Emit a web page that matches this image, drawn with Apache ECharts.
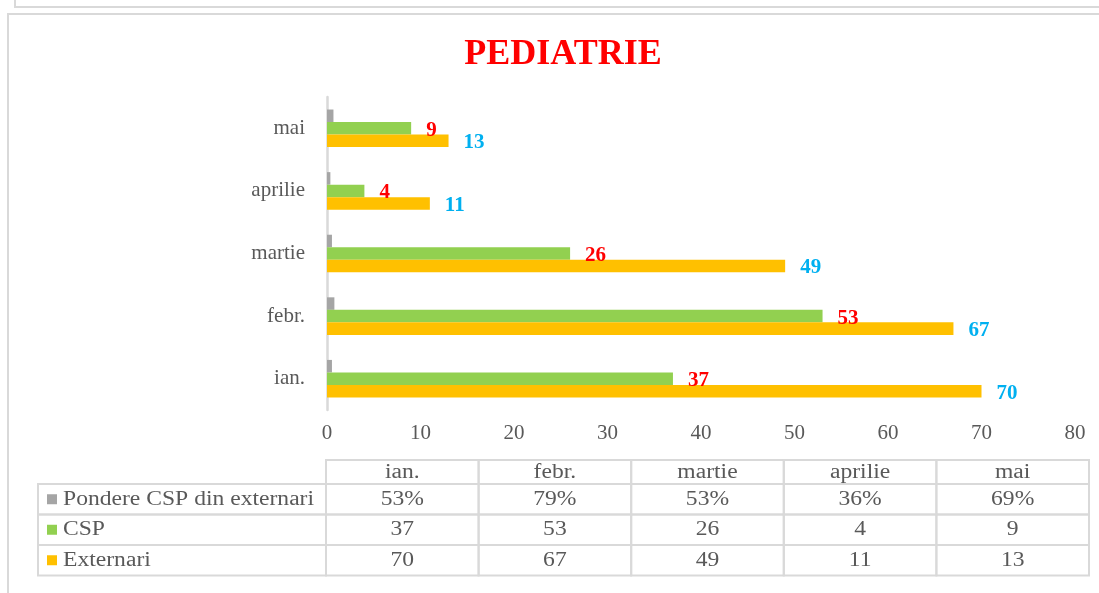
<!DOCTYPE html>
<html>
<head>
<meta charset="utf-8">
<script src="https://cdn.jsdelivr.net/npm/echarts@6/dist/echarts.min.js"></script>
<style>
  html, body { margin: 0; padding: 0; background: #fff; }
  #chart { width: 1099px; height: 593px; }
</style>
</head>
<body>
<div id="chart"></div>
<script>
  // date
  const categories = ['ian.', 'febr.', 'martie', 'aprilie', 'mai'];
  const seriesNames = ['Pondere CSP din externari', 'CSP', 'Externari'];
  const pondere = [0.53, 0.79, 0.53, 0.36, 0.69];
  const csp = [37, 53, 26, 4, 9];
  const externari = [70, 67, 49, 11, 13];
  const xTicks = [0, 10, 20, 30, 40, 50, 60, 70, 80];

  const GRAY = '#a5a5a5';
  const GREEN = '#92d050';
  const ORANGE = '#ffc000';
  const TEXT = '#595959';
  const BORDER = '#d9d9d9';
  const FONT = '"Liberation Serif", "Times New Roman", serif';

  const chart = echarts.init(document.getElementById('chart'));

  // tabelul de date de sub grafic
  const tableLeft = 38;
  const labelColRight = 326;
  const tableRight = 1089;
  const headerTop = 460;
  const headerH = 24;
  const rowH = 30.5;
  const colW = (tableRight - labelColRight) / categories.length;
  const rows = [
    { name: seriesNames[0], color: GRAY, values: pondere.map(v => Math.round(v * 100) + '%') },
    { name: seriesNames[1], color: GREEN, values: csp.map(String) },
    { name: seriesNames[2], color: ORANGE, values: externari.map(String) },
  ];

  const cellStyle = { fill: 'none', stroke: BORDER, lineWidth: 2 };
  // textul din tabel e putin latit, ca in original
  const cellText = (x, y, txt, align) => ({
    type: 'text',
    x,
    y,
    scaleX: 1.18,
    silent: true,
    style: {
      text: txt,
      fill: TEXT,
      font: '20px ' + FONT,
      textAlign: align || 'center',
      textVerticalAlign: 'middle',
    },
  });

  const tableGraphics = [];
  categories.forEach((c, i) => {
    const x = labelColRight + i * colW;
    tableGraphics.push({ type: 'rect', shape: { x, y: headerTop, width: colW, height: headerH }, style: cellStyle, silent: true });
    tableGraphics.push(cellText(x + colW / 2, headerTop + headerH / 2 + 1, c));
  });
  rows.forEach((r, ri) => {
    const y = headerTop + headerH + ri * rowH;
    tableGraphics.push({ type: 'rect', shape: { x: tableLeft, y, width: labelColRight - tableLeft, height: rowH }, style: cellStyle, silent: true });
    tableGraphics.push({ type: 'rect', shape: { x: tableLeft + 9, y: y + rowH / 2 - 5, width: 10, height: 10 }, style: { fill: r.color }, silent: true });
    tableGraphics.push(cellText(tableLeft + 25, y + rowH / 2, r.name, 'left'));
    r.values.forEach((v, i) => {
      const x = labelColRight + i * colW;
      tableGraphics.push({ type: 'rect', shape: { x, y, width: colW, height: rowH }, style: cellStyle, silent: true });
      tableGraphics.push(cellText(x + colW / 2, y + rowH / 2, v));
    });
  });

  // chenarele din jurul graficului
  const frames = [
    { type: 'rect', shape: { x: 15, y: -10, width: 1100, height: 17 }, style: { fill: 'none', stroke: BORDER, lineWidth: 2 }, silent: true },
    { type: 'rect', shape: { x: 8, y: 14, width: 1100, height: 600 }, style: { fill: 'none', stroke: BORDER, lineWidth: 2 }, silent: true },
  ];

  const barLabel = (color) => ({
    show: true,
    position: 'right',
    distance: 15,
    offset: [0, 2],
    color,
    fontWeight: 'bold',
    fontSize: 21,
    fontFamily: FONT,
  });

  const option = {
    backgroundColor: '#fff',
    animation: false,
    title: {
      text: 'PEDIATRIE',
      left: 558,
      top: 32,
      textAlign: 'center',
      textStyle: { color: '#ff0000', fontSize: 36, fontWeight: 'bold', fontFamily: FONT },
    },
    grid: { left: 327, right: 24, top: 97, bottom: 183 },
    xAxis: {
      type: 'value',
      min: xTicks[0],
      max: xTicks[xTicks.length - 1],
      interval: xTicks[1] - xTicks[0],
      axisLine: { show: false },
      axisTick: { show: false },
      splitLine: { show: false },
      axisLabel: { color: TEXT, fontSize: 21, fontFamily: FONT, margin: 13 },
    },
    yAxis: {
      type: 'category',
      data: categories,
      axisLine: { show: true, lineStyle: { color: BORDER, width: 2.5 } },
      axisTick: { show: false },
      axisLabel: { color: TEXT, fontSize: 21, fontFamily: FONT, margin: 22 },
    },
    series: [
      {
        name: seriesNames[0],
        type: 'bar',
        data: pondere,
        barGap: 0,
        barCategoryGap: '40%',
        itemStyle: { color: GRAY },
      },
      {
        name: seriesNames[1],
        type: 'bar',
        data: csp,
        barGap: 0,
        barCategoryGap: '40%',
        itemStyle: { color: GREEN },
        label: barLabel('#ff0000'),
      },
      {
        name: seriesNames[2],
        type: 'bar',
        data: externari,
        barGap: 0,
        barCategoryGap: '40%',
        itemStyle: { color: ORANGE },
        label: barLabel('#00b0f0'),
      },
    ],
    graphic: frames.concat(tableGraphics),
  };

  chart.setOption(option);
</script>
</body>
</html>
